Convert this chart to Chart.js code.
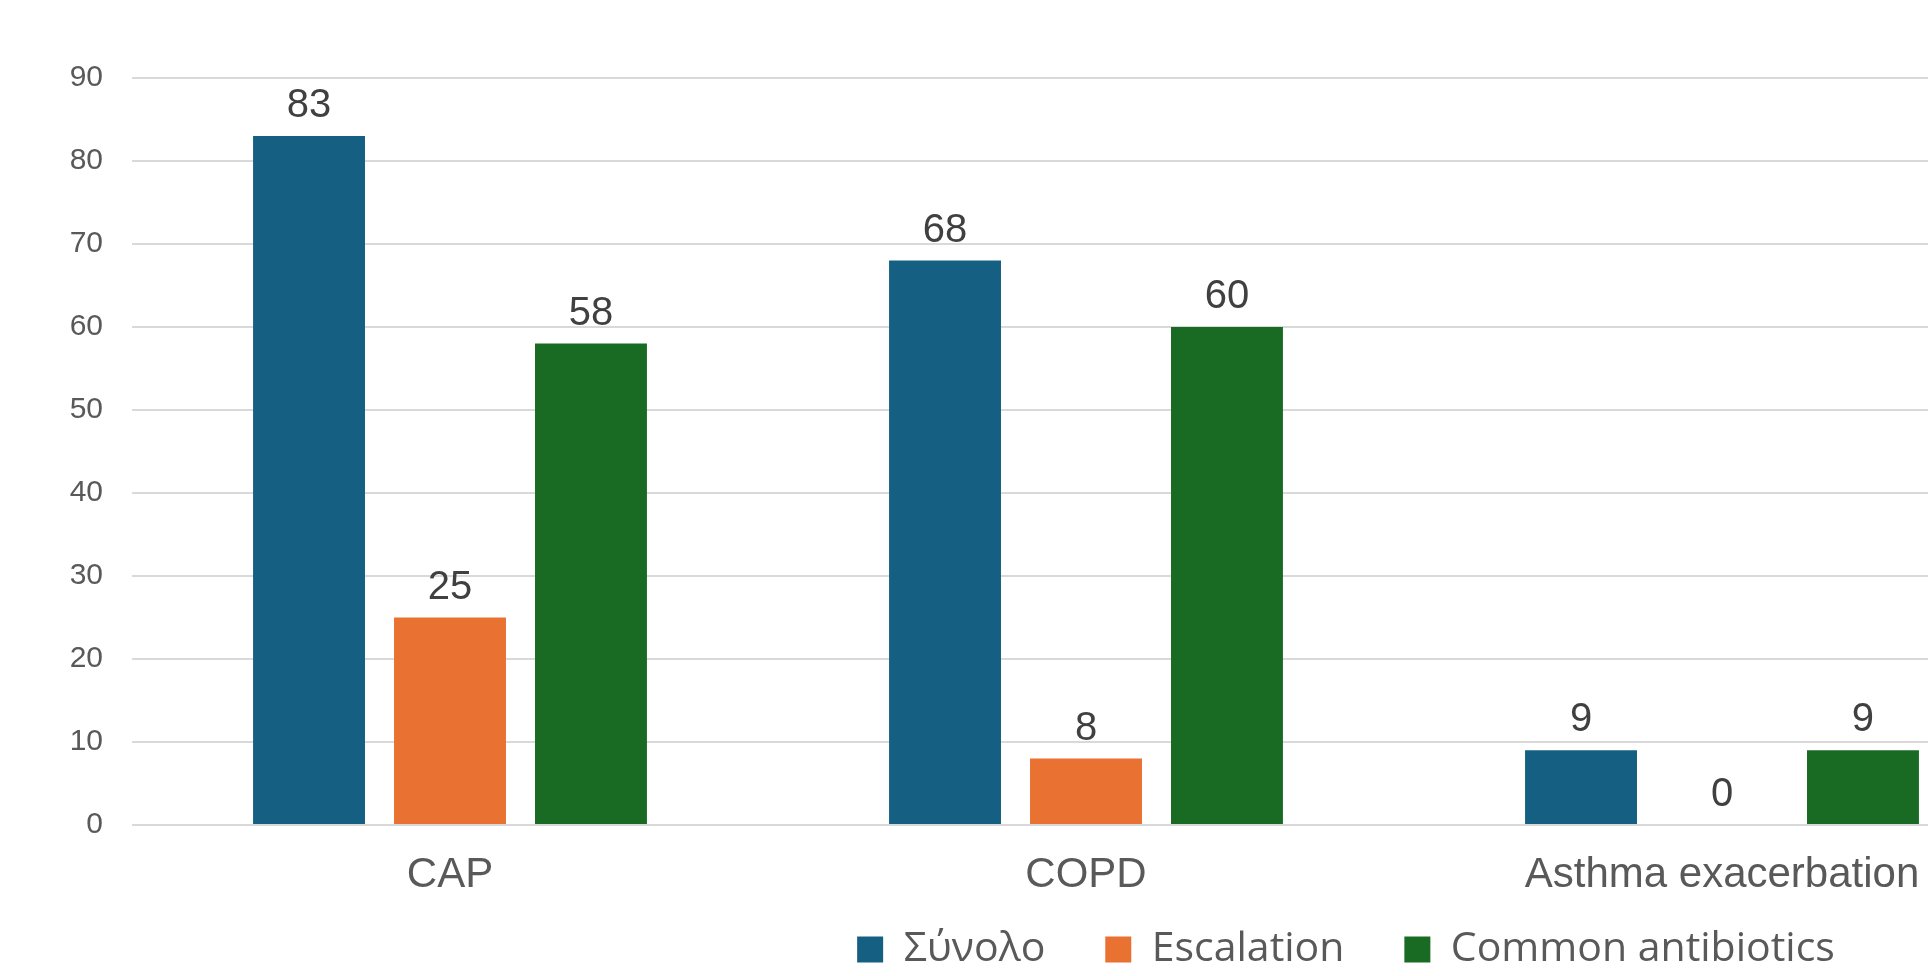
<!DOCTYPE html>
<html>
<head>
<meta charset="utf-8">
<script src="https://cdn.jsdelivr.net/npm/chart.js@4"></script>
<style>
  html, body { margin: 0; padding: 0; background: #ffffff; overflow: hidden; }
  #wrap { width: 2692px; height: 976px; }
</style>
</head>
<body>
<div id="wrap"><canvas id="chart" width="2692" height="976"></canvas></div>
<script>
// categories and series
var categories = ['CAP', 'COPD', 'Asthma exacerbation'];
var totalValues = [83, 68, 9];
var escalationValues = [25, 8, 0];
var commonValues = [58, 60, 9];
var seriesNames = ['Σύνολο', 'Escalation', 'Common antibiotics'];
var yTicks = [0, 10, 20, 30, 40, 50, 60, 70, 80, 90];

var colors = ['#156082', '#E97132', '#196B24'];
var axisFont = 'Arial, "Liberation Sans", sans-serif';

// draws the value above each bar
var valueLabels = {
    id: 'valueLabels',
    afterDatasetsDraw: function(chart) {
        var ctx = chart.ctx;
        ctx.save();
        ctx.font = '40px ' + axisFont;
        ctx.fillStyle = '#404040';
        ctx.textAlign = 'center';
        ctx.textBaseline = 'alphabetic';
        chart.data.datasets.forEach(function(ds, i) {
            chart.getDatasetMeta(i).data.forEach(function(bar, j) {
                ctx.fillText(String(ds.data[j]), bar.x, bar.y - 19);
            });
        });
        ctx.restore();
    }
};

var ctx = document.getElementById('chart').getContext('2d');
var myChart = new Chart(ctx, {
    type: 'bar',
    data: {
        labels: categories,
        datasets: [
            { label: seriesNames[0], data: totalValues, backgroundColor: colors[0] },
            { label: seriesNames[1], data: escalationValues, backgroundColor: colors[1] },
            { label: seriesNames[2], data: commonValues, backgroundColor: colors[2] }
        ]
    },
    options: {
        responsive: false,
        animation: false,
        devicePixelRatio: 1,
        categoryPercentage: 0.665,
        barPercentage: 0.794,
        layout: { padding: { top: 78, left: 0, right: 0, bottom: -4 } },
        plugins: {
            tooltip: { enabled: false },
            legend: {
                position: 'bottom',
                labels: {
                    boxWidth: 26,
                    boxHeight: 26,
                    padding: 28,
                    color: '#595959',
                    font: { family: '"Open Sans", sans-serif', size: 41 },
                    // a little extra room after the first two items, like the original
                    generateLabels: function(chart) {
                        var items = Chart.defaults.plugins.legend.labels.generateLabels(chart);
                        items.forEach(function(it, i) {
                            if (i < items.length - 1) it.text += '\u00a0\u00a0\u00a0';
                        });
                        return items;
                    }
                }
            }
        },
        scales: {
            x: {
                grid: { display: false, drawTicks: false },
                border: { display: false },
                ticks: {
                    color: '#595959',
                    font: { family: axisFont, size: 42 },
                    padding: 25,
                    maxRotation: 0,
                    autoSkip: false
                },
                afterFit: function(s) { s.height = 76; }
            },
            y: {
                min: 0,
                max: 90,
                afterBuildTicks: function(s) {
                    s.ticks = yTicks.map(function(v) { return { value: v }; });
                },
                grid: { color: '#D9D9D9', lineWidth: 2, drawTicks: false },
                border: { display: false },
                ticks: {
                    color: '#595959',
                    font: { family: axisFont, size: 30 },
                    padding: 29
                },
                afterFit: function(s) { s.width = 132; }
            },
            // empty axis that pushes the plot past the visible right edge
            y2: {
                position: 'right',
                grid: { display: false },
                border: { display: false },
                ticks: { display: false },
                afterFit: function(s) { s.width = 652; }
            }
        }
    },
    plugins: [valueLabels]
});
</script>
</body>
</html>
